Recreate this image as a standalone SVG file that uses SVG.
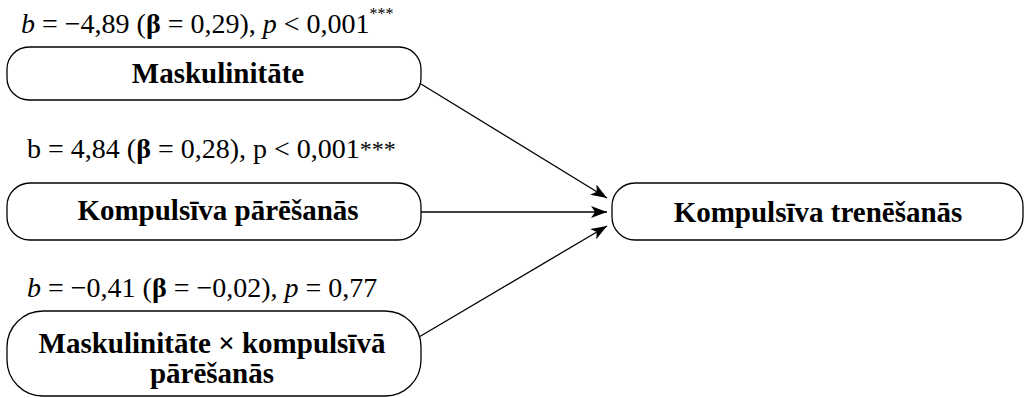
<svg xmlns="http://www.w3.org/2000/svg" width="1025" height="398" viewBox="0 0 1025 398">
<style>
.box{fill:#fff;stroke:#000;stroke-width:1.3}
.nt{font-family:"Liberation Serif",serif;font-weight:bold;font-size:29px;text-anchor:middle;fill:#000}
.lb{font-family:"Liberation Serif",serif;font-size:28px;fill:#000}
.it{font-style:italic}
.bd{font-weight:bold}
.cn{stroke:#000;stroke-width:1.3;fill:none;marker-end:url(#ah)}
</style>
<defs>
<marker id="ah" markerWidth="16" markerHeight="12" refX="16" refY="6" orient="auto" markerUnits="userSpaceOnUse">
<path d="M0,0 L16,6 L0,12 L4,6 Z" fill="#000"/>
</marker>
</defs>
<rect width="1025" height="398" fill="#fff"/>
<g id="labels">
<text class="lb" x="21" y="33"><tspan class="it">b</tspan> = −4,89 (<tspan class="bd">β</tspan> = 0,29), <tspan class="it">p</tspan> &lt; 0,001<tspan font-size="16" dy="-14">***</tspan></text>
<text class="lb" x="27" y="158">b = 4,84 (<tspan class="bd">β</tspan> = 0,28), p &lt; 0,001<tspan font-size="24" dy="-1">***</tspan></text>
<text class="lb" x="27" y="297"><tspan class="it">b</tspan> = −0,41 (<tspan class="bd">β</tspan> = −0,02), <tspan class="it">p</tspan> = 0,77</text>
</g>
<g id="node-maskulinitate">
<rect class="box" x="7" y="47" width="414" height="53" rx="22"/>
<text class="nt" x="218" y="83">Maskulinitāte</text>
</g>
<g id="node-kompulsiva-paresanas">
<rect class="box" x="7" y="183" width="414" height="57" rx="23"/>
<text class="nt" x="218" y="220">Kompulsīva pārēšanās</text>
</g>
<g id="node-interaction">
<rect class="box" x="7" y="311" width="414" height="85" rx="36"/>
<text class="nt" x="212" y="353">Maskulinitāte × kompulsīvā</text>
<text class="nt" x="212" y="383">pārēšanās</text>
</g>
<g id="node-kompulsiva-trenesanas">
<rect class="box" x="612" y="183" width="411" height="57" rx="23"/>
<text class="nt" x="818" y="222">Kompulsīva trenēšanās</text>
</g>
<g id="connectors">
<line class="cn" x1="421" y1="84" x2="607" y2="198"/>
<line class="cn" x1="419" y1="337" x2="607" y2="226"/>
<line class="cn" x1="421" y1="212" x2="607" y2="212"/>
</g>
</svg>
